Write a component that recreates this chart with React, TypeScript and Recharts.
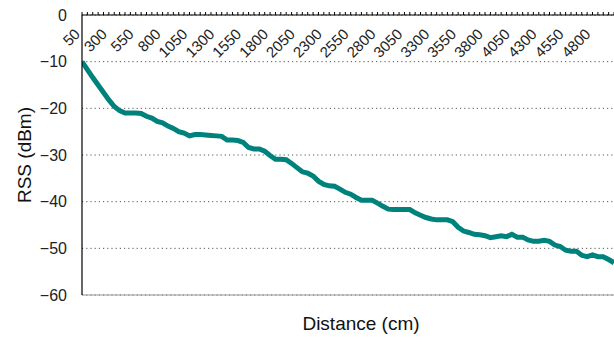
import React from 'react';
import { LineChart, Line, XAxis, YAxis, CartesianGrid, ReferenceLine } from 'recharts';

const distances: number[] = [
  50, 100, 150, 200, 250, 300, 350, 400, 450, 500,
  550, 600, 650, 700, 750, 800, 850, 900, 950, 1000,
  1050, 1100, 1150, 1200, 1250, 1300, 1350, 1400, 1450, 1500,
  1550, 1600, 1650, 1700, 1750, 1800, 1850, 1900, 1950, 2000,
  2050, 2100, 2150, 2200, 2250, 2300, 2350, 2400, 2450, 2500,
  2550, 2600, 2650, 2700, 2750, 2800, 2850, 2900, 2950, 3000,
  3050, 3100, 3150, 3200, 3250, 3300, 3350, 3400, 3450, 3500,
  3550, 3600, 3650, 3700, 3750, 3800, 3850, 3900, 3950, 4000,
  4050, 4100, 4150, 4200, 4250, 4300, 4350, 4400, 4450, 4500,
  4550, 4600, 4650, 4700, 4750, 4800, 4850, 4900, 4950, 5000,
];

const rss: number[] = [
  -10, -11.7, -13.4, -15.0, -16.6, -18.2, -19.6, -20.5, -21, -21,
  -21, -21.1, -21.7, -22.1, -22.8, -23.1, -23.8, -24.3, -25.0, -25.3,
  -25.9, -25.6, -25.6, -25.7, -25.8, -25.9, -26.0, -26.8, -26.8, -26.9,
  -27.3, -28.4, -28.7, -28.7, -29.2, -30.1, -30.9, -30.9, -31.0, -31.8,
  -32.7, -33.6, -33.9, -34.5, -35.6, -36.3, -36.6, -36.7, -37.3, -38.0,
  -38.4, -39.1, -39.7, -39.7, -39.7, -40.3, -41.0, -41.6, -41.7, -41.7,
  -41.7, -41.7, -42.4, -42.9, -43.4, -43.7, -43.9, -43.9, -43.9, -44.3,
  -45.5, -46.3, -46.6, -47.0, -47.1, -47.3, -47.7, -47.5, -47.3, -47.5,
  -47.0, -47.6, -47.6, -48.2, -48.5, -48.5, -48.3, -48.5, -49.3, -49.6,
  -50.4, -50.6, -50.6, -51.5, -51.8, -51.4, -51.8, -51.8, -52.4, -53.1,
];

const xTicks: number[] = distances;
const xLabelStep = 250;
const yTicks: number[] = [0, -10, -20, -30, -40, -50, -60];

const data = distances.map((d, i) => ({ d, rss: rss[i] }));

const FONT = '"Liberation Sans", Arial, sans-serif';

const XTick = (props: any) => {
  const { x, y, payload } = props;
  const v = payload.value as number;
  if ((v - 50) % xLabelStep !== 0) return <g />;
  const axisY = y + 5;
  const tx = x - 1;
  const ty = axisY + 20;
  return (
    <text
      x={tx}
      y={ty}
      transform={`rotate(-45 ${tx} ${ty})`}
      textAnchor="end"
      fontSize={15}
      fill="#222"
      fontFamily={FONT}
    >
      {v}
    </text>
  );
};

const fmtY = (v: number) => (v < 0 ? '\u2212' + Math.abs(v) : String(v));

export default function App() {
  return (
    <div style={{ position: 'absolute', left: 0, top: 0, width: 614, height: 337, background: '#fff', fontFamily: FONT }}>
      <LineChart
        width={614}
        height={337}
        data={data}
        margin={{ top: 2, right: 0, bottom: 42, left: 0 }}
      >
        <CartesianGrid
          horizontal={true}
          vertical={false}
          stroke="#555"
          strokeDasharray="1.2 3"
        />
        <ReferenceLine y={-60} stroke="#999" strokeWidth={1} />
        <XAxis
          dataKey="d"
          type="number"
          domain={[50, 5000]}
          ticks={xTicks}
          interval={0}
          orientation="top"
          height={13}
          tickSize={3}
          tickMargin={2}
          tick={<XTick />}
          axisLine={{ stroke: '#000', strokeWidth: 1.2 }}
          tickLine={{ stroke: '#000' }}
          allowDataOverflow
        />
        <YAxis
          type="number"
          domain={[-60, 0]}
          ticks={yTicks}
          interval={0}
          width={82}
          tickLine={false}
          tickMargin={9}
          tickFormatter={fmtY}
          tick={{ fontSize: 16, fill: '#222', fontFamily: FONT }}
          axisLine={{ stroke: '#000', strokeWidth: 1.2 }}
        />
        <Line
          type="linear"
          dataKey="rss"
          stroke="#00827c"
          strokeWidth={5}
          dot={false}
          isAnimationActive={false}
        />
      </LineChart>
      <div
        style={{
          position: 'absolute',
          left: 25,
          top: 155,
          transform: 'translate(-50%, -50%) rotate(-90deg)',
          fontSize: 19,
          color: '#111',
          whiteSpace: 'nowrap',
        }}
      >
        RSS (dBm)
      </div>
      <div
        style={{
          position: 'absolute',
          left: 361,
          top: 324,
          transform: 'translate(-50%, -50%)',
          fontSize: 19,
          color: '#111',
          whiteSpace: 'nowrap',
        }}
      >
        Distance (cm)
      </div>
    </div>
  );
}
